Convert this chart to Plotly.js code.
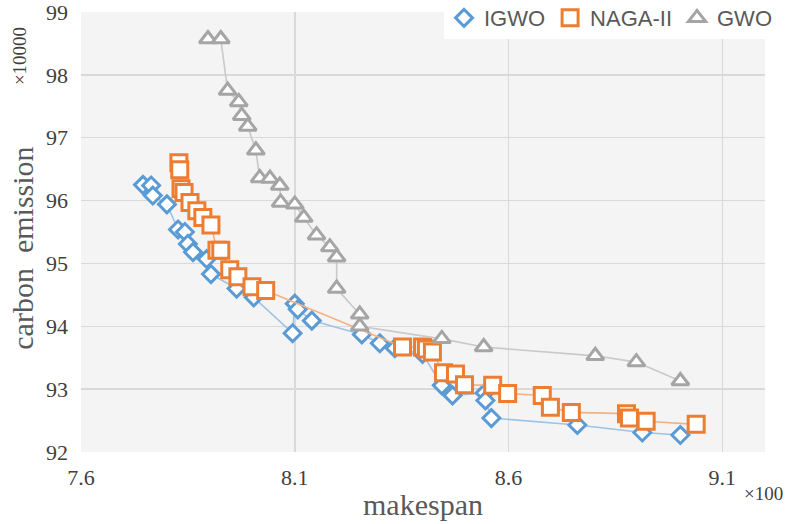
<!DOCTYPE html>
<html>
<head>
<meta charset="utf-8">
<script src="https://cdn.plot.ly/plotly-3.0.1.min.js"></script>
<style>html,body{margin:0;padding:0;background:#fff;}#chart{width:788px;height:524px;}</style>
</head>
<body>
<div id="chart"></div>
<script>
// makespan (x100) and carbon emission (x10000)
const igwoX = [7.745,7.764,7.768,7.801,7.827,7.843,7.850,7.862,7.894,7.904,7.964,8.004,8.095,8.100,8.107,8.140,8.257,8.299,8.334,8.399,8.444,8.469,8.544,8.546,8.560,8.761,8.913,9.002];
const igwoY = [96.25,96.24,96.08,95.94,95.54,95.50,95.31,95.18,95.07,94.83,94.60,94.46,93.89,94.36,94.27,94.09,93.87,93.73,93.65,93.56,93.06,92.90,92.94,92.82,92.54,92.43,92.31,92.27];

const nagaX = [7.829,7.831,7.834,7.841,7.855,7.871,7.885,7.904,7.918,7.927,7.948,7.967,8.000,8.032,8.352,8.399,8.408,8.422,8.448,8.476,8.497,8.563,8.598,8.679,8.698,8.747,8.876,8.883,8.922,9.039];
const nagaY = [96.60,96.49,96.19,96.13,95.97,95.84,95.73,95.61,95.21,95.21,94.90,94.79,94.63,94.57,93.67,93.67,93.64,93.59,93.26,93.24,93.07,93.06,92.93,92.90,92.71,92.63,92.61,92.54,92.49,92.44];

const gwoX = [7.897,7.927,7.943,7.969,7.976,7.990,8.009,8.018,8.042,8.065,8.067,8.100,8.121,8.151,8.182,8.198,8.198,8.252,8.252,8.444,8.542,8.803,8.899,9.002];
const gwoY = [98.57,98.57,97.75,97.57,97.35,97.18,96.80,96.36,96.35,96.24,95.97,95.94,95.73,95.45,95.26,95.10,94.60,94.19,94.00,93.80,93.67,93.53,93.43,93.13];

const seriesNames = ['IGWO','NAGA-II','GWO'];
const xTicks = [7.6,8.1,8.6,9.1];
const yTicks = [92,93,94,95,96,97,98,99];

const blue = '#5b9bd5', orange = '#ed7d31', gray = '#a5a5a5';

function series(x, y, name, color, lineColor, symbol, size) {
  return {
    x: x, y: y, name: name, type: 'scatter', mode: 'lines+markers', showlegend: false,
    line: {color: lineColor, width: 1.6},
    marker: {symbol: symbol, size: size, color: '#ffffff', line: {color: color, width: 3}}
  };
}
function legendItem(name, color, symbol, size) {
  return {
    x: [null], y: [null], name: name, type: 'scatter', mode: 'markers', showlegend: true,
    marker: {symbol: symbol, size: size, color: '#ffffff', line: {color: color, width: 3}}
  };
}

const data = [
  series(igwoX, igwoY, seriesNames[0], blue, '#9dc3e6', 'diamond', 13),
  series(nagaX, nagaY, seriesNames[1], orange, '#f4b183', 'square', 16),
  series(gwoX, gwoY, seriesNames[2], gray, '#c9c9c9', 'triangle-up', 15),
  legendItem(seriesNames[0], blue, 'diamond', 13),
  legendItem(seriesNames[1], orange, 'square', 16),
  legendItem(seriesNames[2], gray, 'triangle-up', 15)
];

const serif = '"Liberation Serif", "Times New Roman", serif';

const layout = {
  width: 788, height: 524,
  margin: {l: 81, r: 23, t: 12, b: 72, autoexpand: false},
  paper_bgcolor: '#ffffff',
  plot_bgcolor: '#f4f4f4',
  showlegend: true,
  legend: {
    orientation: 'h', x: 1.019, xanchor: 'right', y: 1.034, yanchor: 'top',
    bgcolor: '#ffffff', borderwidth: 0,
    font: {family: '"Liberation Sans", Arial, sans-serif', size: 22, color: '#595959'},
    itemclick: false
  },
  xaxis: {
    range: [7.6, 9.2], tickvals: xTicks, ticktext: xTicks.map(v => v.toFixed(1)),
    showgrid: true, gridcolor: '#d9d9d9', gridwidth: 1.5, zeroline: false, showline: false,
    ticks: '', ticklabelstandoff: 10, ticklabeloverflow: 'allow',
    tickfont: {family: serif, size: 22, color: '#404040'},
    title: {text: 'makespan', font: {family: serif, size: 30, color: '#595959'}, standoff: 4}
  },
  yaxis: {
    range: [92, 99], tickvals: yTicks, ticktext: yTicks.map(String),
    showgrid: true, gridcolor: '#d9d9d9', gridwidth: 1.5, zeroline: false, showline: false,
    ticks: '', ticklabelstandoff: 12, ticklabeloverflow: 'allow',
    tickfont: {family: serif, size: 22, color: '#404040'}
  },
  annotations: [
    {text: 'carbon  emission', xref: 'paper', yref: 'paper', x: -0.085, y: 0.464, xanchor: 'center', yanchor: 'middle',
     textangle: -90, showarrow: false, font: {family: serif, size: 30, color: '#595959'}},
    {text: '×10000', xref: 'paper', yref: 'paper', x: -0.089, y: 0.9, xanchor: 'center', yanchor: 'middle',
     textangle: -90, showarrow: false, font: {family: serif, size: 19, color: '#404040'}},
    {text: '×100', xref: 'paper', yref: 'paper', x: 0.998, y: -0.095, xanchor: 'center', yanchor: 'middle',
     showarrow: false, font: {family: serif, size: 19, color: '#404040'}}
  ]
};

Plotly.newPlot('chart', data, layout, {staticPlot: true, displayModeBar: false});
</script>
</body>
</html>
